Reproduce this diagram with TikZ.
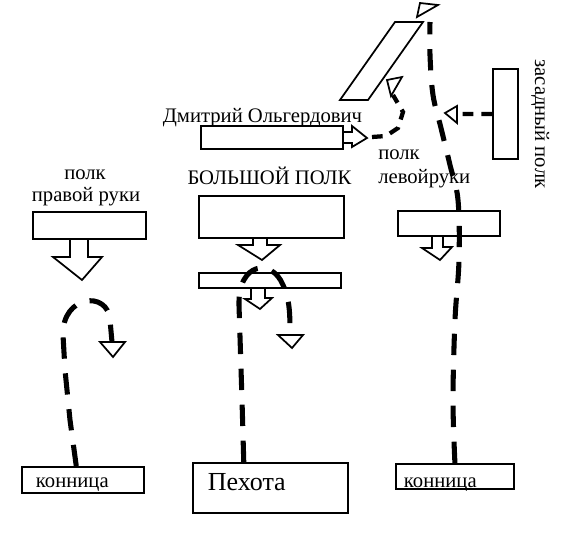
\documentclass[tikz,border=0pt]{standalone}
\usepackage{fontspec}
\setmainfont{Liberation Serif}

\tikzset{
  box/.style={draw, line width=1.4pt, inner sep=0pt, anchor=north west, font=\fontsize{15.5}{18}\selectfont},
  lbl/.style={inner sep=0pt, font=\fontsize{15.5}{18}\selectfont},
  thin/.style={line width=1.3pt, line join=miter},
  dashline/.style={line width=3.8pt, dash pattern=on 16pt off 11pt},
  shortdash/.style={line width=3.2pt, dash pattern=on 8pt off 6pt}
}

\begin{document}
\begin{tikzpicture}[x=0.75pt,y=-0.75pt]
\useasboundingbox (0,0) rectangle (572,553);

% boxes
\node[box, minimum width=84.75pt, minimum height=20.25pt] (prava) at (32,211) {};
\node[box, minimum width=108.75pt, minimum height=31.5pt] (bolshoi) at (198,195) {};
\node[box, minimum width=106.5pt, minimum height=11.25pt] (bolshoiB) at (198,272) {};
\node[box, minimum width=106.5pt, minimum height=17.25pt] (dmitry) at (200,125) {};
\node[box, minimum width=76.5pt, minimum height=18.75pt] (levoy) at (397,210) {};
\node[box, minimum width=18.75pt, minimum height=67.5pt] (zasad) at (492,68) {};

\node[box, minimum width=91.5pt, minimum height=19.5pt, text width=70.5pt, align=left,
      text height=12pt, text depth=0pt] (konL) at (21,466) {конница};
\node[box, minimum width=116.25pt, minimum height=37.5pt, text width=93.75pt, align=left,
      text height=4.5pt, text depth=0pt, font=\fontsize{19.5}{22}\selectfont] (pehota) at (192,462) {Пехота};
\node[box, minimum width=88.5pt, minimum height=18.75pt, text width=76.5pt, align=left,
      text height=16.5pt, text depth=0pt] (konR) at (395,463) {конница};

% labels
\node[lbl, anchor=base] (lblDmitry) at (262.5,122) {Дмитрий Ольгердович};
\node[lbl, anchor=base] (lblBolshoi) at (269.5,184) {БОЛЬШОЙ ПОЛК};
\node[lbl, anchor=base] (lblPolkR) at (85,179) {полк};
\node[lbl, anchor=base] (lblPravoi) at (86,201) {правой руки};
\node[lbl, anchor=base west] (lblPolkL) at (378,159) {полк};
\node[lbl, anchor=base west] (lblLevoy) at (378,183) {левойруки};
\node[lbl, anchor=base west, rotate=-90] (lblZasad) at (535,59) {засадный полк};

% parallelogram
\draw[thin] (340,100) -- (395,22) -- (423,22) -- (368,100) -- cycle;

% block arrows
\draw[thin] (70,238) -- (70,257) -- (53,257) -- (82,280) -- (102,257) -- (88,257) -- (88,238);
\draw[thin] (253,237) -- (253,245) -- (238,245) -- (262,260) -- (280,245) -- (267,245) -- (267,237);
\draw[thin] (251,287) -- (251,299) -- (245,299) -- (260,309) -- (272,298) -- (265,298) -- (265,287);
\draw[thin] (342,132) -- (352,132) -- (352,126) -- (367,138) -- (352,147) -- (352,143) -- (342,143);
\draw[thin] (432,235) -- (432,248) -- (422,248) -- (440,260) -- (452,247) -- (443,247) -- (443,235);

% heads of the dashed moves
\coordinate (topHead) at (430,22);
\coordinate (leftHead) at (457,114);
\coordinate (smallHead) at (393,95);
\coordinate (dmStart) at (372,137);
\coordinate (pehHead) at (290,335);
\coordinate (prHead) at (112,342);
\draw[thin] (420,3) -- (438,5) -- (417,17) -- cycle;
\draw[thin] (445,113) -- (457,106) -- (457,123) -- cycle;
\draw[thin] (387,80) -- (402,77) -- (391,96) -- cycle;
\draw[thin] (278,335) -- (303,335) -- (292,348) -- cycle;
\draw[thin] (100,342) -- (125,342) -- (113,357) -- cycle;

% dashed moves
\draw[dashline] plot[smooth, tension=0.6] coordinates {(konR.north) (453,400) (455,320) (459,260) (458,200) (450,165) (441,128) (433,95) (430,55) (topHead)};
\draw[shortdash] (zasad.west) -- (leftHead);
\draw[shortdash] (dmStart) -- (386,136) -- (398,128) -- (403,112) -- (smallHead);
\draw[dashline] ([xshift=-20pt]pehota.north) -- (242,400) -- (239,305)
  .. controls (238,262) and (272,258) .. (283,285)
  .. controls (290,300) and (290,315) .. (pehHead);
\draw[dashline] ([xshift=-5pt]konL.north) -- (70,420) -- (65,370) -- (63,335)
  .. controls (62,295) and (108,290) .. (110,320) -- (prHead);
\end{tikzpicture}
\end{document}
